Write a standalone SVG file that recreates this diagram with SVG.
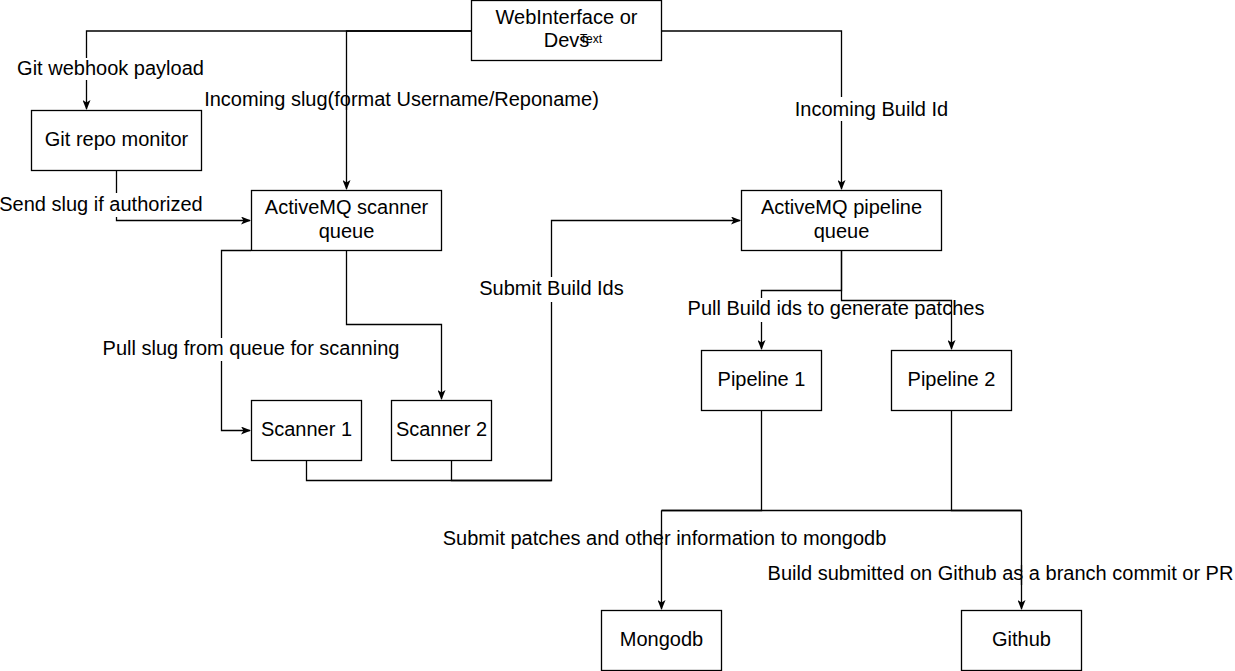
<svg xmlns="http://www.w3.org/2000/svg" width="1235" height="671" viewBox="0 0 1235 671">
<style>
  .box { fill: #ffffff; stroke: #000000; stroke-width: 1.3; }
  .edge { fill: none; stroke: #000000; stroke-width: 1.3; }
  .arr { marker-end: url(#arrow); }
  text { font-family: "Liberation Sans", Arial, sans-serif; font-size: 20px; fill: #000000; text-anchor: middle; }
  .small { font-size: 12px; }
  .bg { fill: #ffffff; stroke: none; }
</style>
<defs>
  <marker id="arrow" viewBox="0 0 10 8" refX="9" refY="4" markerWidth="10" markerHeight="8" markerUnits="userSpaceOnUse" orient="auto">
    <path d="M0,0 L10,4 L0,8 L2.5,4 Z" fill="#000000"/>
  </marker>
</defs>
<rect width="1235" height="671" fill="#ffffff"/>

<g id="connectors">
  <path class="edge arr" d="M471.5,31 H86.5 V109"/>
  <path class="edge arr" d="M471.5,31 H346.5 V189"/>
  <path class="edge arr" d="M661.5,31 H841.5 V189"/>
  <path class="edge arr" d="M116.5,170 V220.5 H250"/>
  <path class="edge arr" d="M251,250.5 H221.5 V430.5 H250"/>
  <path class="edge arr" d="M346.5,250 V324.5 H441.5 V399"/>
  <path class="edge" d="M306.5,460 V480.5 H551.5"/>
  <path class="edge arr" d="M451.5,460 V480.5 H551.5 V220.5 H740"/>
  <path class="edge arr" d="M841.5,250 V290.5 H761.5 V349"/>
  <path class="edge" d="M761.5,410 V510.5 H661.5"/>
  <path class="edge" d="M951.5,410 V510.5 H1021.5"/>
  <path class="edge" d="M661.5,510.5 H1021.5"/>
  <path class="edge arr" d="M661.5,510.5 V609"/>
  <path class="edge arr" d="M1021.5,510.5 V609"/>
</g>

<g id="edge-labels">
  <rect class="bg" x="17" y="58" width="188" height="22"/>
  <text x="110.5" y="75">Git webhook payload</text>
  <text x="401.5" y="106">Incoming slug(format Username/Reponame)</text>
  <rect class="bg" x="795" y="97" width="154" height="24"/>
  <text x="871.5" y="116">Incoming Build Id</text>
  <rect class="bg" x="0" y="193" width="204" height="24"/>
  <text x="101" y="211">Send slug if authorized</text>
  <rect class="bg" x="479" y="277" width="146" height="25"/>
  <text x="551.5" y="295">Submit Build Ids</text>
  <rect class="bg" x="102" y="338" width="299" height="23"/>
  <text x="251" y="355">Pull slug from queue for scanning</text>
  <rect class="bg" x="687" y="298" width="299" height="24"/>
  <text x="836" y="315">Pull Build ids to generate patches</text>
  <text x="664.5" y="545">Submit patches and other information to mongodb</text>
  <text x="1000.5" y="580">Build submitted on Github as a branch commit or PR</text>
  <path class="edge arr" d="M841.5,250 V300.5 H951.5 V349"/>
  <path class="edge" d="M346.5,95 V110"/>
  <path class="edge" d="M661.5,530 V550"/>
  <path class="edge" d="M1021.5,565 V585"/>
</g>

<g id="node-web">
  <rect class="box" x="471.5" y="0.5" width="190" height="60"/>
  <text x="566.5" y="24">WebInterface or</text>
  <text x="566.5" y="47">Devs</text>
  <text class="small" x="591" y="43">Text</text>
</g>
<g id="node-gitmonitor">
  <rect class="box" x="31.5" y="110.5" width="170" height="60"/>
  <text x="116.5" y="146">Git repo monitor</text>
</g>
<g id="node-scanqueue">
  <rect class="box" x="251.5" y="190.5" width="190" height="60"/>
  <text x="346.5" y="214">ActiveMQ scanner</text>
  <text x="346.5" y="238">queue</text>
</g>
<g id="node-pipequeue">
  <rect class="box" x="741.5" y="190.5" width="200" height="60"/>
  <text x="841.5" y="214">ActiveMQ pipeline</text>
  <text x="841.5" y="238">queue</text>
</g>
<g id="node-scanner1">
  <rect class="box" x="251.5" y="400.5" width="110" height="60"/>
  <text x="306.5" y="436">Scanner 1</text>
</g>
<g id="node-scanner2">
  <rect class="box" x="391.5" y="400.5" width="100" height="60"/>
  <text x="441.5" y="436">Scanner 2</text>
</g>
<g id="node-pipeline1">
  <rect class="box" x="701.5" y="350.5" width="120" height="60"/>
  <text x="761.5" y="386">Pipeline 1</text>
</g>
<g id="node-pipeline2">
  <rect class="box" x="891.5" y="350.5" width="120" height="60"/>
  <text x="951.5" y="386">Pipeline 2</text>
</g>
<g id="node-mongodb">
  <rect class="box" x="601.5" y="610.5" width="120" height="60"/>
  <text x="661.5" y="646">Mongodb</text>
</g>
<g id="node-github">
  <rect class="box" x="961.5" y="610.5" width="120" height="60"/>
  <text x="1021.5" y="646">Github</text>
</g>
</svg>
